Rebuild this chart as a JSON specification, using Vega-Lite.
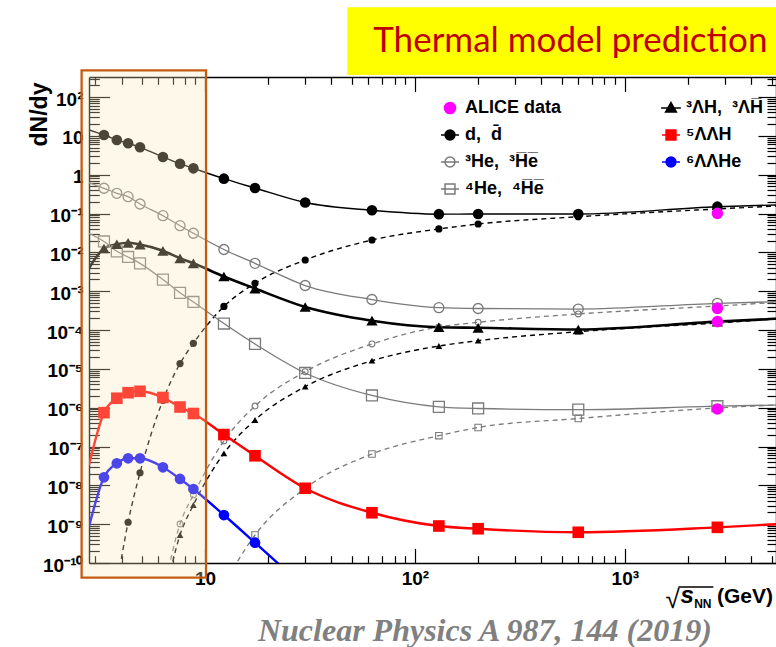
{
  "$schema": "https://vega.github.io/schema/vega-lite/v6.json",
  "width": 687,
  "height": 486,
  "autosize": "none",
  "padding": {"left": 89, "top": 77, "right": 0, "bottom": 84},
  "background": "white",
  "config": {"view": {"stroke": null}, "font": "Liberation Sans"},
  "datasets": {
    "yields": [
      {"s": "d", "t": "c", "E": 2.8, "y": 14.2},
      {"s": "d", "t": "m", "E": 3.3, "y": 10.5},
      {"s": "d", "t": "m", "E": 3.8, "y": 7.83},
      {"s": "d", "t": "m", "E": 4.3, "y": 6.44},
      {"s": "d", "t": "m", "E": 4.9, "y": 5.08},
      {"s": "d", "t": "m", "E": 6.3, "y": 2.86},
      {"s": "d", "t": "m", "E": 7.6, "y": 1.92},
      {"s": "d", "t": "m", "E": 8.8, "y": 1.46},
      {"s": "d", "t": "m", "E": 12.3, "y": 0.789},
      {"s": "d", "t": "m", "E": 17.3, "y": 0.454},
      {"s": "d", "t": "m", "E": 30, "y": 0.192},
      {"s": "d", "t": "m", "E": 62.4, "y": 0.121},
      {"s": "d", "t": "m", "E": 130, "y": 0.0962},
      {"s": "d", "t": "m", "E": 200, "y": 0.0973},
      {"s": "d", "t": "m", "E": 600, "y": 0.0973},
      {"s": "d", "t": "m", "E": 2760, "y": 0.15},
      {"s": "d", "t": "c", "E": 5250, "y": 0.166},

      {"s": "dbar", "t": "c", "E": 3.8, "y": 2.6e-11},
      {"s": "dbar", "t": "m", "E": 4.3, "y": 1.12e-9},
      {"s": "dbar", "t": "m", "E": 4.9, "y": 2.11e-8},
      {"s": "dbar", "t": "m", "E": 6.3, "y": 1.55e-6},
      {"s": "dbar", "t": "m", "E": 7.6, "y": 1.37e-5},
      {"s": "dbar", "t": "m", "E": 8.8, "y": 4.55e-5},
      {"s": "dbar", "t": "m", "E": 12.3, "y": 4.04e-4},
      {"s": "dbar", "t": "m", "E": 17.3, "y": 1.6e-3},
      {"s": "dbar", "t": "m", "E": 30, "y": 6.35e-3},
      {"s": "dbar", "t": "m", "E": 62.4, "y": 0.0208},
      {"s": "dbar", "t": "m", "E": 130, "y": 0.04},
      {"s": "dbar", "t": "m", "E": 200, "y": 0.0537},
      {"s": "dbar", "t": "m", "E": 600, "y": 0.0828},
      {"s": "dbar", "t": "m", "E": 2760, "y": 0.131},
      {"s": "dbar", "t": "c", "E": 5250, "y": 0.156},

      {"s": "He3", "t": "c", "E": 2.8, "y": 0.622},
      {"s": "He3", "t": "m", "E": 3.3, "y": 0.447},
      {"s": "He3", "t": "m", "E": 3.8, "y": 0.332},
      {"s": "He3", "t": "m", "E": 4.3, "y": 0.272},
      {"s": "He3", "t": "m", "E": 4.9, "y": 0.176},
      {"s": "He3", "t": "m", "E": 6.3, "y": 0.0879},
      {"s": "He3", "t": "m", "E": 7.6, "y": 0.0486},
      {"s": "He3", "t": "m", "E": 8.8, "y": 0.031},
      {"s": "He3", "t": "m", "E": 12.3, "y": 0.01186},
      {"s": "He3", "t": "m", "E": 17.3, "y": 5.22e-3},
      {"s": "He3", "t": "m", "E": 30, "y": 1.4e-3},
      {"s": "He3", "t": "m", "E": 62.4, "y": 6.1e-4},
      {"s": "He3", "t": "m", "E": 130, "y": 3.76e-4},
      {"s": "He3", "t": "m", "E": 200, "y": 3.58e-4},
      {"s": "He3", "t": "m", "E": 600, "y": 3.47e-4},
      {"s": "He3", "t": "m", "E": 2760, "y": 4.88e-4},
      {"s": "He3", "t": "c", "E": 5250, "y": 5.36e-4},

      {"s": "He3bar", "t": "c", "E": 6.3, "y": 1.5e-11},
      {"s": "He3bar", "t": "m", "E": 7.6, "y": 1.01e-9},
      {"s": "He3bar", "t": "m", "E": 8.8, "y": 5.64e-9},
      {"s": "He3bar", "t": "m", "E": 12.3, "y": 1.39e-7},
      {"s": "He3bar", "t": "m", "E": 17.3, "y": 1.1e-6},
      {"s": "He3bar", "t": "m", "E": 30, "y": 8.45e-6},
      {"s": "He3bar", "t": "m", "E": 62.4, "y": 4.37e-5},
      {"s": "He3bar", "t": "m", "E": 130, "y": 1.2e-4},
      {"s": "He3bar", "t": "m", "E": 200, "y": 1.58e-4},
      {"s": "He3bar", "t": "m", "E": 600, "y": 2.59e-4},
      {"s": "He3bar", "t": "m", "E": 2760, "y": 4.16e-4},
      {"s": "He3bar", "t": "c", "E": 5250, "y": 5.12e-4},

      {"s": "He4", "t": "c", "E": 2.8, "y": 0.031},
      {"s": "He4", "t": "m", "E": 3.3, "y": 0.01905},
      {"s": "He4", "t": "m", "E": 3.8, "y": 0.01064},
      {"s": "He4", "t": "m", "E": 4.3, "y": 7.6e-3},
      {"s": "He4", "t": "m", "E": 4.9, "y": 5.22e-3},
      {"s": "He4", "t": "m", "E": 6.3, "y": 1.99e-3},
      {"s": "He4", "t": "m", "E": 7.6, "y": 9.08e-4},
      {"s": "He4", "t": "m", "E": 8.8, "y": 5.27e-4},
      {"s": "He4", "t": "m", "E": 12.3, "y": 1.47e-4},
      {"s": "He4", "t": "m", "E": 17.3, "y": 4.37e-5},
      {"s": "He4", "t": "m", "E": 30, "y": 7.82e-6},
      {"s": "He4", "t": "m", "E": 62.4, "y": 2.06e-6},
      {"s": "He4", "t": "m", "E": 130, "y": 1.05e-6},
      {"s": "He4", "t": "m", "E": 200, "y": 9.53e-7},
      {"s": "He4", "t": "m", "E": 600, "y": 8.87e-7},
      {"s": "He4", "t": "m", "E": 2760, "y": 1.09e-6},
      {"s": "He4", "t": "c", "E": 5250, "y": 1.17e-6},

      {"s": "He4bar", "t": "c", "E": 12.3, "y": 2.8e-11},
      {"s": "He4bar", "t": "m", "E": 17.3, "y": 5.26e-10},
      {"s": "He4bar", "t": "m", "E": 30, "y": 8.4e-9},
      {"s": "He4bar", "t": "m", "E": 62.4, "y": 6.41e-8},
      {"s": "He4bar", "t": "m", "E": 130, "y": 1.9e-7},
      {"s": "He4bar", "t": "m", "E": 200, "y": 3.09e-7},
      {"s": "He4bar", "t": "m", "E": 600, "y": 5.26e-7},
      {"s": "He4bar", "t": "m", "E": 2760, "y": 9.82e-7},
      {"s": "He4bar", "t": "c", "E": 5250, "y": 1.17e-6},

      {"s": "H3L", "t": "c", "E": 2.8, "y": 3.89e-3},
      {"s": "H3L", "t": "m", "E": 3.3, "y": 0.01256},
      {"s": "H3L", "t": "m", "E": 3.8, "y": 0.01614},
      {"s": "H3L", "t": "m", "E": 4.3, "y": 0.01762},
      {"s": "H3L", "t": "m", "E": 4.9, "y": 0.01585},
      {"s": "H3L", "t": "m", "E": 6.3, "y": 0.01096},
      {"s": "H3L", "t": "m", "E": 7.6, "y": 7.03e-3},
      {"s": "H3L", "t": "m", "E": 8.8, "y": 5.22e-3},
      {"s": "H3L", "t": "m", "E": 12.3, "y": 2.39e-3},
      {"s": "H3L", "t": "m", "E": 17.3, "y": 1.17e-3},
      {"s": "H3L", "t": "m", "E": 30, "y": 3.92e-4},
      {"s": "H3L", "t": "m", "E": 62.4, "y": 1.74e-4},
      {"s": "H3L", "t": "m", "E": 130, "y": 1.18e-4},
      {"s": "H3L", "t": "m", "E": 200, "y": 1.14e-4},
      {"s": "H3L", "t": "m", "E": 600, "y": 1.03e-4},
      {"s": "H3L", "t": "m", "E": 2760, "y": 1.64e-4},
      {"s": "H3L", "t": "c", "E": 5250, "y": 1.95e-4},

      {"s": "H3Lbar", "t": "c", "E": 6.3, "y": 7.9e-12},
      {"s": "H3Lbar", "t": "m", "E": 7.6, "y": 5.26e-10},
      {"s": "H3Lbar", "t": "m", "E": 8.8, "y": 3.12e-9},
      {"s": "H3Lbar", "t": "m", "E": 12.3, "y": 6.68e-8},
      {"s": "H3Lbar", "t": "m", "E": 17.3, "y": 4.82e-7},
      {"s": "H3Lbar", "t": "m", "E": 30, "y": 3.47e-6},
      {"s": "H3Lbar", "t": "m", "E": 62.4, "y": 1.62e-5},
      {"s": "H3Lbar", "t": "m", "E": 130, "y": 3.87e-5},
      {"s": "H3Lbar", "t": "m", "E": 200, "y": 5.31e-5},
      {"s": "H3Lbar", "t": "m", "E": 600, "y": 9.06e-5},
      {"s": "H3Lbar", "t": "m", "E": 2760, "y": 1.52e-4},
      {"s": "H3Lbar", "t": "c", "E": 5250, "y": 1.92e-4},

      {"s": "LLH5", "t": "c", "E": 2.8, "y": 3.34e-8},
      {"s": "LLH5", "t": "m", "E": 3.3, "y": 7.43e-7},
      {"s": "LLH5", "t": "m", "E": 3.8, "y": 1.75e-6},
      {"s": "LLH5", "t": "m", "E": 4.3, "y": 2.43e-6},
      {"s": "LLH5", "t": "m", "E": 4.9, "y": 2.64e-6},
      {"s": "LLH5", "t": "m", "E": 6.3, "y": 1.83e-6},
      {"s": "LLH5", "t": "m", "E": 7.6, "y": 1.04e-6},
      {"s": "LLH5", "t": "m", "E": 8.8, "y": 7.08e-7},
      {"s": "LLH5", "t": "m", "E": 12.3, "y": 2.03e-7},
      {"s": "LLH5", "t": "m", "E": 17.3, "y": 5.77e-8},
      {"s": "LLH5", "t": "m", "E": 30, "y": 8.4e-9},
      {"s": "LLH5", "t": "m", "E": 62.4, "y": 1.97e-9},
      {"s": "LLH5", "t": "m", "E": 130, "y": 8.97e-10},
      {"s": "LLH5", "t": "m", "E": 200, "y": 7.63e-10},
      {"s": "LLH5", "t": "m", "E": 600, "y": 6.18e-10},
      {"s": "LLH5", "t": "m", "E": 2760, "y": 8.29e-10},
      {"s": "LLH5", "t": "c", "E": 5250, "y": 9.93e-10},

      {"s": "LLHe6", "t": "c", "E": 2.8, "y": 8.61e-10},
      {"s": "LLHe6", "t": "m", "E": 3.3, "y": 1.61e-8},
      {"s": "LLHe6", "t": "m", "E": 3.8, "y": 3.7e-8},
      {"s": "LLHe6", "t": "m", "E": 4.3, "y": 4.97e-8},
      {"s": "LLHe6", "t": "m", "E": 4.9, "y": 4.97e-8},
      {"s": "LLHe6", "t": "m", "E": 6.3, "y": 2.92e-8},
      {"s": "LLHe6", "t": "m", "E": 7.6, "y": 1.46e-8},
      {"s": "LLHe6", "t": "m", "E": 8.8, "y": 8.05e-9},
      {"s": "LLHe6", "t": "m", "E": 12.3, "y": 1.72e-9},
      {"s": "LLHe6", "t": "m", "E": 17.3, "y": 3.33e-10},
      {"s": "LLHe6", "t": "c", "E": 30, "y": 2.3e-11},

      {"s": "ALICE", "t": "m", "E": 2760, "y": 0.101},
      {"s": "ALICE", "t": "m", "E": 2760, "y": 3.62e-4},
      {"s": "ALICE", "t": "m", "E": 2760, "y": 1.64e-4},
      {"s": "ALICE", "t": "m", "E": 2760, "y": 9.25e-7}
    ],
    "keys": [
      {"k": "ALICE"}, {"k": "d"}, {"k": "He3"}, {"k": "He4"}, {"k": "H3L"}, {"k": "LLH5"}, {"k": "LLHe6"}
    ],
    "notes": [
      {"n": "Thermal model prediction"}
    ]
  },
  "layer": [
    {
      "data": {"name": "notes"},
      "mark": {"type": "rect", "clip": false, "fill": "#ffff00"},
      "encoding": {
        "x": {"datum": 47.6, "type": "quantitative", "axis": null},
        "x2": {"datum": 100000},
        "y": {"datum": 370, "type": "quantitative", "axis": null},
        "y2": {"datum": 20460}
      }
    },
    {
      "data": {"name": "notes"},
      "mark": {"type": "text", "font": "Lato", "fontSize": 35, "align": "left", "baseline": "alphabetic", "color": "#c00000", "clip": false},
      "encoding": {"text": {"field": "n"}, "x": {"datum": 63.3, "type": "quantitative", "axis": null}, "y": {"datum": 1472, "type": "quantitative", "axis": null}}
    },
    {
      "data": {"name": "yields"},
      "transform": [{"filter": "datum.s == 'd'"}],
      "mark": {"type": "line", "clip": true, "interpolate": "monotone", "color": "black", "strokeWidth": 1.4},
      "encoding": {
        "x": {
          "field": "E", "type": "quantitative",
          "scale": {"type": "log", "domain": [2.8, 5250], "nice": false},
          "axis": {
            "orient": "bottom",
            "title": null,
            "grid": false,
            "values": [3, 4, 5, 6, 7, 8, 9, 10, 20, 30, 40, 50, 60, 70, 80, 90, 100, 200, 300, 400, 500, 600, 700, 800, 900, 1000, 2000, 3000, 4000, 5000],
            "labelExpr": "datum.value == 10 ? '10' : datum.value == 100 ? '10²' : datum.value == 1000 ? '10³' : ''",
            "tickSize": {"condition": {"test": "datum.value == 10 || datum.value == 100 || datum.value == 1000", "value": -14.6}, "value": -7.3},
            "tickColor": "black",
            "tickWidth": 1.2,
            "domainColor": "black",
            "domainWidth": 1.4,
            "labelFont": "Liberation Sans",
            "labelFontSize": 19,
            "labelFontWeight": "bold",
            "labelColor": "black",
            "labelAlign": "center",
            "labelBaseline": "top",
            "labelPadding": 21,
            "labelOverlap": false,
            "labelFlush": false,
            "labelBound": false
          }
        },
        "y": {
          "field": "y", "type": "quantitative",
          "scale": {"type": "log", "domain": [1e-10, 328], "nice": false},
          "axis": {
            "orient": "left",
            "grid": false,
            "title": "dN/dy",
            "titleFont": "Liberation Sans",
            "titleFontSize": 23,
            "titleFontWeight": "bold",
            "titleColor": "black",
            "titleAngle": 270,
            "titleAlign": "center",
            "titleBaseline": "alphabetic",
            "titleX": -43,
            "titleY": 37,
            "values": [1e-10, 2e-10, 3e-10, 4e-10, 5e-10, 6e-10, 7e-10, 8e-10, 9e-10, 1e-9, 2e-9, 3e-9, 4e-9, 5e-9, 6e-9, 7e-9, 8e-9, 9e-9, 1e-8, 2e-8, 3e-8, 4e-8, 5e-8, 6e-8, 7e-8, 8e-8, 9e-8, 1e-7, 2e-7, 3e-7, 4e-7, 5e-7, 6e-7, 7e-7, 8e-7, 9e-7, 1e-6, 2e-6, 3e-6, 4e-6, 5e-6, 6e-6, 7e-6, 8e-6, 9e-6, 1e-5, 2e-5, 3e-5, 4e-5, 5e-5, 6e-5, 7e-5, 8e-5, 9e-5, 1e-4, 2e-4, 3e-4, 4e-4, 5e-4, 6e-4, 7e-4, 8e-4, 9e-4, 0.001, 0.002, 0.003, 0.004, 0.005, 0.006, 0.007, 0.008, 0.009, 0.01, 0.02, 0.03, 0.04, 0.05, 0.06, 0.07, 0.08, 0.09, 0.1, 0.2, 0.3, 0.4, 0.5, 0.6, 0.7, 0.8, 0.9, 1, 2, 3, 4, 5, 6, 7, 8, 9, 10, 20, 30, 40, 50, 60, 70, 80, 90, 100, 200, 300],
            "labelExpr": "abs(log(datum.value)/LN10 - round(log(datum.value)/LN10)) < 1e-6 ? ['10⁻¹⁰','10⁻⁹','10⁻⁸','10⁻⁷','10⁻⁶','10⁻⁵','10⁻⁴','10⁻³','10⁻²','10⁻¹','1','10','10²'][round(log(datum.value)/LN10) + 10] : ''",
            "tickSize": {"condition": {"test": "abs(log(datum.value)/LN10 - round(log(datum.value)/LN10)) < 1e-6", "value": -20.6}, "value": -10.3},
            "tickColor": "black",
            "tickWidth": 1.2,
            "domainColor": "black",
            "domainWidth": 1.4,
            "labelFont": "Liberation Sans",
            "labelFontSize": 19,
            "labelFontWeight": "bold",
            "labelColor": "black",
            "labelAlign": "right",
            "labelBaseline": "middle",
            "labelOffset": 2,
            "labelPadding": 26.6,
            "labelOverlap": false,
            "labelFlush": false,
            "labelBound": false
          }
        }
      }
    },
    {
      "data": {"name": "yields"},
      "transform": [{"filter": "datum.s == 'dbar'"}],
      "mark": {"type": "line", "clip": true, "interpolate": "monotone", "color": "black", "strokeWidth": 1.4, "strokeDash": [5, 4]},
      "encoding": {
        "x": {
          "field": "E", "type": "quantitative",
          "scale": {"type": "log", "domain": [2.8, 5250], "nice": false},
          "axis": {
            "orient": "top",
            "title": null,
            "grid": false,
            "labels": false,
            "values": [3, 4, 5, 6, 7, 8, 9, 10, 20, 30, 40, 50, 60, 70, 80, 90, 100, 200, 300, 400, 500, 600, 700, 800, 900, 1000, 2000, 3000, 4000, 5000],
            "tickSize": {"condition": {"test": "datum.value == 10 || datum.value == 100 || datum.value == 1000", "value": -14.6}, "value": -7.3},
            "tickColor": "black",
            "tickWidth": 1.2,
            "domainColor": "black",
            "domainWidth": 1.4
          }
        },
        "y": {
          "field": "y", "type": "quantitative",
          "scale": {"type": "log", "domain": [1e-10, 328], "nice": false},
          "axis": {
            "orient": "right",
            "title": null,
            "grid": false,
            "labels": false,
            "values": [1e-10, 2e-10, 3e-10, 4e-10, 5e-10, 6e-10, 7e-10, 8e-10, 9e-10, 1e-9, 2e-9, 3e-9, 4e-9, 5e-9, 6e-9, 7e-9, 8e-9, 9e-9, 1e-8, 2e-8, 3e-8, 4e-8, 5e-8, 6e-8, 7e-8, 8e-8, 9e-8, 1e-7, 2e-7, 3e-7, 4e-7, 5e-7, 6e-7, 7e-7, 8e-7, 9e-7, 1e-6, 2e-6, 3e-6, 4e-6, 5e-6, 6e-6, 7e-6, 8e-6, 9e-6, 1e-5, 2e-5, 3e-5, 4e-5, 5e-5, 6e-5, 7e-5, 8e-5, 9e-5, 1e-4, 2e-4, 3e-4, 4e-4, 5e-4, 6e-4, 7e-4, 8e-4, 9e-4, 0.001, 0.002, 0.003, 0.004, 0.005, 0.006, 0.007, 0.008, 0.009, 0.01, 0.02, 0.03, 0.04, 0.05, 0.06, 0.07, 0.08, 0.09, 0.1, 0.2, 0.3, 0.4, 0.5, 0.6, 0.7, 0.8, 0.9, 1, 2, 3, 4, 5, 6, 7, 8, 9, 10, 20, 30, 40, 50, 60, 70, 80, 90, 100, 200, 300],
            "tickSize": {"condition": {"test": "abs(log(datum.value)/LN10 - round(log(datum.value)/LN10)) < 1e-6", "value": -18}, "value": -9},
            "tickColor": "black",
            "tickWidth": 1.2,
            "domainColor": "black",
            "domainWidth": 1.4
          }
        }
      }
    },
    {
      "data": {"name": "yields"},
      "transform": [{"filter": "datum.s == 'He3' || datum.s == 'He4'"}],
      "mark": {"type": "line", "clip": true, "interpolate": "monotone", "color": "#7a7a7a", "strokeWidth": 1.3},
      "encoding": {
        "x": {"field": "E", "type": "quantitative", "scale": {"type": "log", "domain": [2.8, 5250], "nice": false}, "axis": null},
        "y": {"field": "y", "type": "quantitative", "scale": {"type": "log", "domain": [1e-10, 328], "nice": false}, "axis": null},
        "detail": {"field": "s"}
      }
    },
    {
      "data": {"name": "yields"},
      "transform": [{"filter": "datum.s == 'He3bar' || datum.s == 'He4bar'"}],
      "mark": {"type": "line", "clip": true, "interpolate": "monotone", "color": "#7a7a7a", "strokeWidth": 1.3, "strokeDash": [5, 4]},
      "encoding": {
        "x": {"field": "E", "type": "quantitative", "scale": {"type": "log", "domain": [2.8, 5250], "nice": false}, "axis": null},
        "y": {"field": "y", "type": "quantitative", "scale": {"type": "log", "domain": [1e-10, 328], "nice": false}, "axis": null},
        "detail": {"field": "s"}
      }
    },
    {
      "data": {"name": "yields"},
      "transform": [{"filter": "datum.s == 'H3Lbar'"}],
      "mark": {"type": "line", "clip": true, "interpolate": "monotone", "color": "black", "strokeWidth": 1.4, "strokeDash": [5, 4]},
      "encoding": {
        "x": {"field": "E", "type": "quantitative", "scale": {"type": "log", "domain": [2.8, 5250], "nice": false}, "axis": null},
        "y": {"field": "y", "type": "quantitative", "scale": {"type": "log", "domain": [1e-10, 328], "nice": false}, "axis": null}
      }
    },
    {
      "data": {"name": "yields"},
      "transform": [{"filter": "datum.s == 'H3L'"}],
      "mark": {"type": "line", "clip": true, "interpolate": "monotone", "color": "black", "strokeWidth": 2.6},
      "encoding": {
        "x": {"field": "E", "type": "quantitative", "scale": {"type": "log", "domain": [2.8, 5250], "nice": false}, "axis": null},
        "y": {"field": "y", "type": "quantitative", "scale": {"type": "log", "domain": [1e-10, 328], "nice": false}, "axis": null}
      }
    },
    {
      "data": {"name": "yields"},
      "transform": [{"filter": "datum.s == 'LLH5'"}],
      "mark": {"type": "line", "clip": true, "interpolate": "monotone", "color": "#ff0000", "strokeWidth": 2.4},
      "encoding": {
        "x": {"field": "E", "type": "quantitative", "scale": {"type": "log", "domain": [2.8, 5250], "nice": false}, "axis": null},
        "y": {"field": "y", "type": "quantitative", "scale": {"type": "log", "domain": [1e-10, 328], "nice": false}, "axis": null}
      }
    },
    {
      "data": {"name": "yields"},
      "transform": [{"filter": "datum.s == 'LLHe6'"}],
      "mark": {"type": "line", "clip": true, "interpolate": "monotone", "color": "#0000ff", "strokeWidth": 2.4},
      "encoding": {
        "x": {"field": "E", "type": "quantitative", "scale": {"type": "log", "domain": [2.8, 5250], "nice": false}, "axis": null},
        "y": {"field": "y", "type": "quantitative", "scale": {"type": "log", "domain": [1e-10, 328], "nice": false}, "axis": null}
      }
    },
    {
      "data": {"name": "yields"},
      "transform": [{"filter": "datum.t == 'm' && datum.s == 'd'"}],
      "mark": {"type": "point", "shape": "circle", "filled": true, "color": "black", "size": 113, "opacity": 1},
      "encoding": {
        "x": {"field": "E", "type": "quantitative", "scale": {"type": "log", "domain": [2.8, 5250], "nice": false}, "axis": null},
        "y": {"field": "y", "type": "quantitative", "scale": {"type": "log", "domain": [1e-10, 328], "nice": false}, "axis": null}
      }
    },
    {
      "data": {"name": "yields"},
      "transform": [{"filter": "datum.t == 'm' && datum.s == 'dbar'"}],
      "mark": {"type": "point", "shape": "circle", "filled": true, "color": "black", "size": 52, "opacity": 1},
      "encoding": {
        "x": {"field": "E", "type": "quantitative", "scale": {"type": "log", "domain": [2.8, 5250], "nice": false}, "axis": null},
        "y": {"field": "y", "type": "quantitative", "scale": {"type": "log", "domain": [1e-10, 328], "nice": false}, "axis": null}
      }
    },
    {
      "data": {"name": "yields"},
      "transform": [{"filter": "datum.t == 'm' && datum.s == 'He3'"}],
      "mark": {"type": "point", "shape": "circle", "filled": false, "color": "#7a7a7a", "strokeWidth": 1.3, "size": 100, "opacity": 1},
      "encoding": {
        "x": {"field": "E", "type": "quantitative", "scale": {"type": "log", "domain": [2.8, 5250], "nice": false}, "axis": null},
        "y": {"field": "y", "type": "quantitative", "scale": {"type": "log", "domain": [1e-10, 328], "nice": false}, "axis": null}
      }
    },
    {
      "data": {"name": "yields"},
      "transform": [{"filter": "datum.t == 'm' && datum.s == 'He3bar'"}],
      "mark": {"type": "point", "shape": "circle", "filled": false, "color": "#7a7a7a", "strokeWidth": 1.1, "size": 34, "opacity": 1},
      "encoding": {
        "x": {"field": "E", "type": "quantitative", "scale": {"type": "log", "domain": [2.8, 5250], "nice": false}, "axis": null},
        "y": {"field": "y", "type": "quantitative", "scale": {"type": "log", "domain": [1e-10, 328], "nice": false}, "axis": null}
      }
    },
    {
      "data": {"name": "yields"},
      "transform": [{"filter": "datum.t == 'm' && datum.s == 'He4'"}],
      "mark": {"type": "point", "shape": "square", "filled": false, "color": "#7a7a7a", "strokeWidth": 1.3, "size": 120, "opacity": 1},
      "encoding": {
        "x": {"field": "E", "type": "quantitative", "scale": {"type": "log", "domain": [2.8, 5250], "nice": false}, "axis": null},
        "y": {"field": "y", "type": "quantitative", "scale": {"type": "log", "domain": [1e-10, 328], "nice": false}, "axis": null}
      }
    },
    {
      "data": {"name": "yields"},
      "transform": [{"filter": "datum.t == 'm' && datum.s == 'He4bar'"}],
      "mark": {"type": "point", "shape": "square", "filled": false, "color": "#7a7a7a", "strokeWidth": 1.1, "size": 42, "opacity": 1},
      "encoding": {
        "x": {"field": "E", "type": "quantitative", "scale": {"type": "log", "domain": [2.8, 5250], "nice": false}, "axis": null},
        "y": {"field": "y", "type": "quantitative", "scale": {"type": "log", "domain": [1e-10, 328], "nice": false}, "axis": null}
      }
    },
    {
      "data": {"name": "yields"},
      "transform": [{"filter": "datum.t == 'm' && datum.s == 'H3L'"}],
      "mark": {"type": "point", "shape": "triangle-up", "filled": true, "color": "black", "size": 125, "opacity": 1},
      "encoding": {
        "x": {"field": "E", "type": "quantitative", "scale": {"type": "log", "domain": [2.8, 5250], "nice": false}, "axis": null},
        "y": {"field": "y", "type": "quantitative", "scale": {"type": "log", "domain": [1e-10, 328], "nice": false}, "axis": null}
      }
    },
    {
      "data": {"name": "yields"},
      "transform": [{"filter": "datum.t == 'm' && datum.s == 'H3Lbar'"}],
      "mark": {"type": "point", "shape": "triangle-up", "filled": true, "color": "black", "size": 45, "opacity": 1},
      "encoding": {
        "x": {"field": "E", "type": "quantitative", "scale": {"type": "log", "domain": [2.8, 5250], "nice": false}, "axis": null},
        "y": {"field": "y", "type": "quantitative", "scale": {"type": "log", "domain": [1e-10, 328], "nice": false}, "axis": null}
      }
    },
    {
      "data": {"name": "yields"},
      "transform": [{"filter": "datum.t == 'm' && datum.s == 'LLH5'"}],
      "mark": {"type": "point", "shape": "square", "filled": true, "color": "#ff0000", "size": 135, "opacity": 1},
      "encoding": {
        "x": {"field": "E", "type": "quantitative", "scale": {"type": "log", "domain": [2.8, 5250], "nice": false}, "axis": null},
        "y": {"field": "y", "type": "quantitative", "scale": {"type": "log", "domain": [1e-10, 328], "nice": false}, "axis": null}
      }
    },
    {
      "data": {"name": "yields"},
      "transform": [{"filter": "datum.t == 'm' && datum.s == 'LLHe6'"}],
      "mark": {"type": "point", "shape": "circle", "filled": true, "color": "#0000ff", "size": 115, "opacity": 1},
      "encoding": {
        "x": {"field": "E", "type": "quantitative", "scale": {"type": "log", "domain": [2.8, 5250], "nice": false}, "axis": null},
        "y": {"field": "y", "type": "quantitative", "scale": {"type": "log", "domain": [1e-10, 328], "nice": false}, "axis": null}
      }
    },
    {
      "data": {"name": "yields"},
      "transform": [{"filter": "datum.s == 'ALICE'"}],
      "mark": {"type": "point", "shape": "circle", "filled": true, "color": "#ff00ff", "size": 135, "opacity": 1},
      "encoding": {
        "x": {"field": "E", "type": "quantitative", "scale": {"type": "log", "domain": [2.8, 5250], "nice": false}, "axis": null},
        "y": {"field": "y", "type": "quantitative", "scale": {"type": "log", "domain": [1e-10, 328], "nice": false}, "axis": null}
      }
    },
    {
      "data": {"name": "notes"},
      "mark": {"type": "rect", "clip": false, "fill": "#f8e8b9", "fillOpacity": 0.3, "stroke": "#c55a11", "strokeWidth": 2.3},
      "encoding": {
        "x": {"datum": 2.582, "type": "quantitative", "axis": null},
        "x2": {"datum": 10.11},
        "y": {"datum": 4.18e-11, "type": "quantitative", "axis": null},
        "y2": {"datum": 483}
      }
    },
    {
      "data": {"name": "notes"},
      "mark": {"type": "text", "text": "√", "font": "Liberation Sans", "fontSize": 26, "align": "left", "baseline": "alphabetic", "color": "black", "clip": false},
      "encoding": {"x": {"datum": 1563, "type": "quantitative", "axis": null}, "y": {"datum": 6.93e-12, "type": "quantitative", "axis": null}}
    },
    {
      "data": {"name": "notes"},
      "mark": {"type": "rule", "color": "black", "strokeWidth": 1.3, "clip": false},
      "encoding": {"x": {"datum": 1800, "type": "quantitative", "axis": null}, "x2": {"datum": 2640}, "y": {"datum": 2.41e-11, "type": "quantitative", "axis": null}}
    },
    {
      "data": {"name": "notes"},
      "mark": {"type": "text", "text": "s", "font": "Liberation Sans", "fontSize": 24, "fontWeight": "bold", "fontStyle": "italic", "align": "left", "baseline": "alphabetic", "color": "black", "clip": false},
      "encoding": {"x": {"datum": 1840, "type": "quantitative", "axis": null}, "y": {"datum": 9.33e-12, "type": "quantitative", "axis": null}}
    },
    {
      "data": {"name": "notes"},
      "mark": {"type": "text", "text": "NN", "font": "Liberation Sans", "fontSize": 12, "fontWeight": "bold", "align": "left", "baseline": "alphabetic", "color": "black", "clip": false},
      "encoding": {"x": {"datum": 2140, "type": "quantitative", "axis": null}, "y": {"datum": 6.93e-12, "type": "quantitative", "axis": null}}
    },
    {
      "data": {"name": "notes"},
      "mark": {"type": "text", "text": "(GeV)", "font": "Liberation Sans", "fontSize": 21, "fontWeight": "bold", "align": "left", "baseline": "alphabetic", "color": "black", "clip": false},
      "encoding": {"x": {"datum": 2745, "type": "quantitative", "axis": null}, "y": {"datum": 9.33e-12, "type": "quantitative", "axis": null}}
    },
    {
      "data": {"name": "notes"},
      "mark": {"type": "text", "text": "Nuclear Physics A 987, 144 (2019)", "font": "Liberation Serif", "fontSize": 32, "fontWeight": "bold", "fontStyle": "italic", "align": "center", "baseline": "alphabetic", "color": "#808080", "clip": false},
      "encoding": {"x": {"datum": 215.4, "type": "quantitative", "axis": null}, "y": {"datum": 9.8e-13, "type": "quantitative", "axis": null}}
    },
    {
      "data": {"name": "keys"},
      "mark": {"type": "point", "opacity": 0, "size": 324, "strokeWidth": 1.5},
      "encoding": {
        "x": {"datum": 100, "type": "quantitative", "axis": null},
        "y": {"datum": 1, "type": "quantitative", "axis": null},
        "shape": {
          "field": "k", "type": "nominal",
          "scale": {
            "domain": ["ALICE", "d", "He3", "He4", "H3L", "LLH5", "LLHe6"],
            "range": [
              "M-0.62,0A0.62,0.62,0,1,0,0.62,0A0.62,0.62,0,1,0,-0.62,0Z",
              "M-1,0L1,0M-0.55,0A0.55,0.55,0,1,0,0.55,0A0.55,0.55,0,1,0,-0.55,0Z",
              "M-1,0L1,0M-0.55,0A0.55,0.55,0,1,0,0.55,0A0.55,0.55,0,1,0,-0.55,0Z",
              "M-1,0L1,0M-0.55,-0.55H0.55V0.55H-0.55Z",
              "M-1.1,0L1.1,0M0,-0.6L0.6,0.45L-0.6,0.45Z",
              "M-1,0L1,0M-0.55,-0.55H0.55V0.55H-0.55Z",
              "M-1,0L1,0M-0.55,0A0.55,0.55,0,1,0,0.55,0A0.55,0.55,0,1,0,-0.55,0Z"
            ]
          },
          "legend": {
            "orient": "none",
            "legendX": 351,
            "legendY": 21,
            "columns": 2,
            "columnPadding": 96,
            "rowPadding": 8,
            "symbolSize": 324,
            "symbolStrokeWidth": 1.5,
            "symbolOpacity": 1,
            "labelFont": "Liberation Sans",
            "labelFontSize": 18,
            "labelFontWeight": "bold",
            "labelColor": "black",
            "labelOffset": 5,
            "labelLimit": 300,
            "padding": 0,
            "title": null,
            "labelExpr": "datum.value == 'ALICE' ? 'ALICE data' : datum.value == 'd' ? 'd,\u00a0 d\u0304' : datum.value == 'He3' ? '\u00b3He,\u00a0 \u00b3H\u0305e\u0305' : datum.value == 'He4' ? '\u2074He,\u00a0 \u2074H\u0305e\u0305' : datum.value == 'H3L' ? '\u00b3\u039bH,\u00a0 \u00b3\u039bH\u0305' : datum.value == 'LLH5' ? '\u2075\u039b\u039bH' : '\u2076\u039b\u039bHe'"
          }
        },
        "fill": {
          "field": "k", "type": "nominal",
          "scale": {
            "domain": ["ALICE", "d", "He3", "He4", "H3L", "LLH5", "LLHe6"],
            "range": ["#ff00ff", "black", "transparent", "transparent", "black", "#ff0000", "#0000ff"]
          }
        },
        "stroke": {
          "field": "k", "type": "nominal",
          "scale": {
            "domain": ["ALICE", "d", "He3", "He4", "H3L", "LLH5", "LLHe6"],
            "range": ["#ff00ff", "black", "#7a7a7a", "#7a7a7a", "black", "#ff0000", "#0000ff"]
          }
        }
      }
    }
  ],
  "resolve": {"axis": {"x": "independent", "y": "independent"}}
}
